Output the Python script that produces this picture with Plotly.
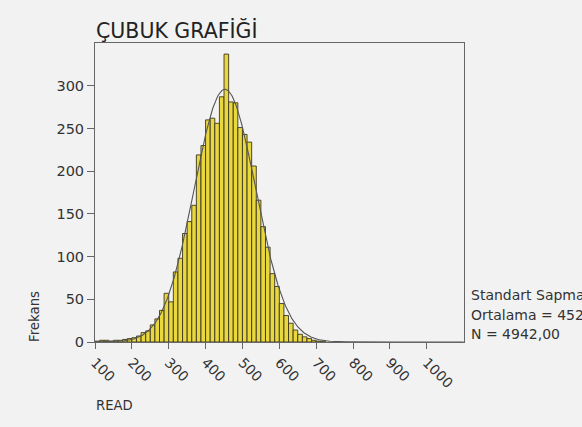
import numpy as np
import plotly.graph_objects as go

# Histogram of READ scores: left edge of each bin and its frequency
bin_width = 12.5
bin_left = [100 + bin_width * i for i in range(50)]
counts = [1, 2, 2, 1, 2, 2, 3, 4, 5, 7,
          11, 13, 20, 27, 37, 57, 47, 82, 98, 127,
          141, 160, 219, 230, 260, 262, 256, 287, 337, 281,
          280, 251, 243, 234, 206, 166, 135, 111, 80, 65,
          45, 31, 22, 14, 9, 6, 4, 2, 1, 1]

# Summary statistics shown beside the chart
n_total = 4942
mean_val = 452.48
sd_val = 83.30

x_ticks = [100, 200, 300, 400, 500, 600, 700, 800, 900, 1000]
y_ticks = [0, 50, 100, 150, 200, 250, 300]

centers = [e + bin_width / 2 for e in bin_left]

# Fitted normal curve scaled to the histogram
xs = np.linspace(100, 1100, 600)
ys = n_total * bin_width / (sd_val * np.sqrt(2 * np.pi)) * np.exp(-0.5 * ((xs - mean_val) / sd_val) ** 2)

fig = go.Figure()
fig.add_trace(go.Bar(
    x=centers, y=counts, width=bin_width,
    marker=dict(color="#E9D73E", line=dict(color="#3a3520", width=0.9)),
    hoverinfo="x+y",
))
fig.add_trace(go.Scatter(
    x=xs, y=ys, mode="lines",
    line=dict(color="#555555", width=1.1),
    hoverinfo="skip",
))

font = "DejaVu Sans, sans-serif"
bg = "#f2f2f2"
fig.update_layout(
    width=582, height=427,
    margin=dict(l=95, r=118, t=43, b=85),
    paper_bgcolor=bg, plot_bgcolor=bg,
    showlegend=False,
    font=dict(family=font, size=14, color="#333333"),
    xaxis=dict(
        range=[100, 1101], tickvals=x_ticks, ticktext=[str(v) for v in x_ticks],
        tickangle=45, ticks="outside", ticklen=6, tickcolor="#666666",
        showgrid=False, zeroline=False,
        showline=True, mirror=True, linecolor="#666666", linewidth=1,
        tickfont=dict(size=14, color="#333333"),
    ),
    yaxis=dict(
        range=[0, 350], tickvals=y_ticks,
        ticks="outside", ticklen=7, tickcolor="#666666",
        showgrid=False, zeroline=False,
        showline=True, mirror=True, linecolor="#666666", linewidth=1,
        tickfont=dict(size=14.5, color="#333333"),
    ),
)

def py(pix):
    # convert a vertical page position to paper coordinates
    return (342 - pix) / 299

def px(pix):
    return (pix - 95) / 369

annotations = [
    dict(text="ÇUBUK GRAFİĞİ", x=px(94), y=py(30), xanchor="left", yanchor="middle",
         font=dict(size=20.5, color="#222222")),
    dict(text="Frekans", x=px(34), y=py(316), xanchor="center", yanchor="middle",
         textangle=-90, font=dict(size=13.3, color="#333333")),
    dict(text="READ", x=px(94), y=py(405), xanchor="left", yanchor="middle",
         font=dict(size=13.2, color="#333333")),
    dict(text=f"Standart Sapma = {sd_val:.2f}".replace(".", ","), x=px(469), y=py(295),
         xanchor="left", yanchor="middle", font=dict(size=14, color="#333333")),
    dict(text=f"Ortalama = {mean_val:.2f}".replace(".", ","), x=px(469), y=py(315),
         xanchor="left", yanchor="middle", font=dict(size=14, color="#333333")),
    dict(text=f"N = {n_total:,.2f}".replace(",", "").replace(".", ","), x=px(469), y=py(334),
         xanchor="left", yanchor="middle", font=dict(size=14, color="#333333")),
]
for a in annotations:
    a.update(xref="paper", yref="paper", showarrow=False)
fig.update_layout(annotations=annotations)

fig.write_html("out.html")
